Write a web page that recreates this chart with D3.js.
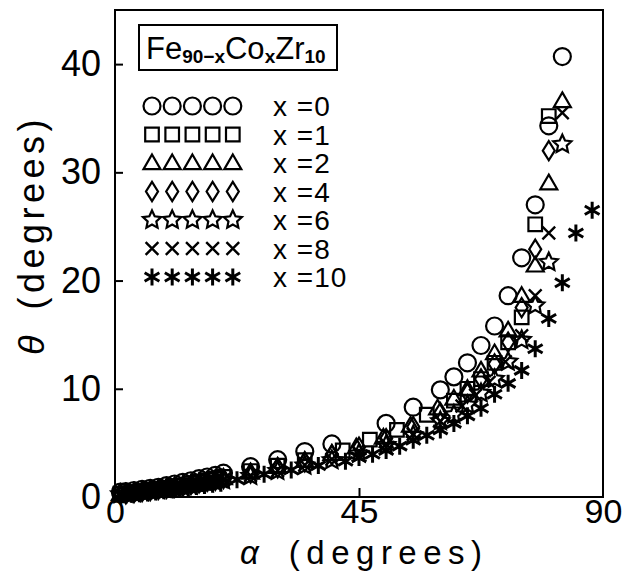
<!DOCTYPE html>
<html>
<head>
<meta charset="utf-8">
<script src="https://cdn.jsdelivr.net/npm/d3@7"></script>
<style>
  body { margin: 0; background: #fff; }
  text { font-family: "Liberation Sans", Arial, sans-serif; fill: #000; }
</style>
</head>
<body>
<script>
// series labels (x in Fe90-xCoxZr10)
var seriesNames = ["x =0", "x =1", "x =2", "x =4", "x =6", "x =8", "x =10"];

// alpha / theta values (degrees)
var alpha0 = [1, 2, 3.5, 5, 6.5, 8, 9.5, 11, 12.5, 14, 15.5, 17, 18.5, 20, 25, 30, 35, 40, 50, 55, 60, 62.5, 65, 67.5, 70, 72.5, 75, 77.5, 80, 82.5];
var theta0 = [0.45, 0.5, 0.6, 0.7, 0.8, 0.9, 1.05, 1.2, 1.35, 1.5, 1.7, 1.85, 2.0, 2.2, 2.8, 3.45, 4.2, 4.9, 6.8, 8.3, 9.9, 11.1, 12.4, 14.0, 15.8, 18.6, 22.1, 27.0, 34.3, 40.7];

var alpha1 = [1, 2, 3.5, 5, 6.5, 8, 9.5, 11, 12.5, 14, 15.5, 17, 18.5, 20, 25, 30, 35, 42, 47, 52, 57.5, 62.5, 65, 67.5, 70, 72.5, 75, 77.5, 80];
var theta1 = [0.3, 0.35, 0.45, 0.55, 0.65, 0.75, 0.85, 1.0, 1.1, 1.25, 1.4, 1.55, 1.7, 1.85, 2.4, 2.9, 3.4, 4.3, 5.3, 6.2, 7.6, 8.9, 10.0, 10.9, 12.4, 14.3, 16.6, 25.2, 35.2];

var alpha2 = [1, 2, 3.5, 5, 6.5, 8, 9.5, 11, 12.5, 14, 15.5, 17, 18.5, 20, 25, 30, 35, 40, 44.5, 49.5, 54.5, 59.5, 62.5, 65, 67.5, 70, 72.5, 75, 77.5, 80, 82.5];
var theta2 = [0.3, 0.35, 0.4, 0.5, 0.6, 0.7, 0.8, 0.95, 1.05, 1.2, 1.35, 1.5, 1.6, 1.75, 2.25, 2.8, 3.35, 4.0, 4.6, 5.5, 6.6, 8.2, 9.1, 10.0, 11.7, 13.3, 15.4, 18.6, 21.4, 29.0, 36.6];

var alpha4 = [1, 2, 3.5, 5, 6.5, 8, 9.5, 11, 12.5, 14, 15.5, 17, 18.5, 20, 25, 30, 35, 40, 45, 50, 55, 60, 65, 67.5, 70, 72.5, 75, 77.5, 80];
var theta4 = [0.25, 0.3, 0.4, 0.5, 0.6, 0.7, 0.8, 0.9, 1.0, 1.15, 1.3, 1.45, 1.55, 1.7, 2.2, 2.7, 3.25, 3.9, 4.6, 5.4, 6.5, 7.8, 9.6, 10.9, 12.3, 14.3, 17.5, 22.9, 32.0];

var alpha6 = [1, 2, 3.5, 5, 6.5, 8, 9.5, 11, 12.5, 14, 15.5, 17, 18.5, 20, 25, 30, 35, 40, 45, 50, 55, 60, 62.5, 65, 67.5, 70, 72.5, 75, 77.5, 80, 82.5];
var theta6 = [0.25, 0.3, 0.35, 0.45, 0.55, 0.62, 0.72, 0.82, 0.92, 1.05, 1.18, 1.3, 1.42, 1.55, 1.95, 2.4, 2.9, 3.4, 4.0, 4.8, 5.7, 7.0, 7.6, 8.5, 9.6, 10.9, 12.5, 14.5, 17.7, 21.7, 32.6];

var alpha8 = [1, 2, 3.5, 5, 6.5, 8, 9.5, 11, 12.5, 14, 15.5, 17, 18.5, 20, 25, 30, 35, 40, 45, 50, 55, 60, 64, 66.5, 69, 72, 75, 77.5, 80, 82.5];
var theta8 = [0.3, 0.35, 0.4, 0.5, 0.6, 0.68, 0.78, 0.88, 0.98, 1.1, 1.22, 1.35, 1.48, 1.6, 2.0, 2.45, 2.95, 3.5, 4.1, 4.9, 5.8, 7.0, 8.4, 9.4, 10.6, 12.5, 14.9, 18.6, 24.4, 35.5];

var alpha10 = [1.5, 3, 4.5, 6, 7.5, 9, 10.5, 12, 13.5, 15, 16.5, 18, 19.5, 22.5, 27.5, 32.5, 37.5, 42.5, 45, 47.5, 50, 52.5, 55, 57.5, 60, 62.5, 65, 67.5, 70, 72.5, 75, 77.5, 80, 82.5, 85, 88];
var theta10 = [0.2, 0.25, 0.3, 0.38, 0.47, 0.57, 0.67, 0.77, 0.86, 0.97, 1.07, 1.17, 1.28, 1.6, 2.1, 2.5, 2.9, 3.3, 3.65, 3.95, 4.3, 4.7, 5.25, 5.7, 6.2, 6.8, 7.5, 8.2, 9.5, 10.5, 11.7, 13.7, 16.5, 19.8, 24.4, 26.5];

var xTicks = [0, 45, 90];
var yTicks = [0, 10, 20, 30, 40];

var allAlpha = [alpha0, alpha1, alpha2, alpha4, alpha6, alpha8, alpha10];
var allTheta = [theta0, theta1, theta2, theta4, theta6, theta8, theta10];

// marker shapes (size = radius in px)
var shapeCircle = {draw: function(c, r){ c.moveTo(r, 0); c.arc(0, 0, r, 0, 2 * Math.PI); }};
var shapeSquare = {draw: function(c, r){ var s = r * 0.85; c.rect(-s, -s, 2 * s, 2 * s); }};
var shapeTriangle = {draw: function(c, r){ c.moveTo(0, -r); c.lineTo(r, r * 0.72); c.lineTo(-r, r * 0.72); c.closePath(); }};
var shapeDiamond = {draw: function(c, r){ c.moveTo(0, -r * 1.2); c.lineTo(r * 0.75, 0); c.lineTo(0, r * 1.2); c.lineTo(-r * 0.75, 0); c.closePath(); }};
var shapeStar = {draw: function(c, r){
  for (var i = 0; i < 10; i++) {
    var a = -Math.PI / 2 + i * Math.PI / 5, rr = i % 2 ? r * 0.48 : r;
    if (i === 0) c.moveTo(rr * Math.cos(a), rr * Math.sin(a)); else c.lineTo(rr * Math.cos(a), rr * Math.sin(a));
  }
  c.closePath();
}};
var shapeTimes = {draw: function(c, r){ var s = r * 0.75; c.moveTo(-s, -s); c.lineTo(s, s); c.moveTo(-s, s); c.lineTo(s, -s); }};
var shapeAsterisk = {draw: function(c, r){
  var t = r / 2, u = t * Math.sqrt(3);
  c.moveTo(0, -r); c.lineTo(0, r);
  c.moveTo(-u, -t); c.lineTo(u, t);
  c.moveTo(-u, t); c.lineTo(u, -t);
}};

var shapes = [shapeCircle, shapeSquare, shapeTriangle, shapeDiamond, shapeStar, shapeTimes, shapeAsterisk];
var shapeSize = [8.5, 8, 8.5, 8, 9.5, 8.5, 8.5];
var shapeStroke = [2.2, 2.2, 2.2, 2.2, 2.2, 2.4, 3];

var width = 624, height = 572;
var margin = {left: 115, right: 21, top: 10, bottom: 75};

var x = d3.scaleLinear().domain([0, 90]).range([margin.left, width - margin.right]);
var y = d3.scaleLinear().domain([0, 45]).range([height - margin.bottom, margin.top]);

var svg = d3.select("body").append("svg").attr("width", width).attr("height", height);

// axes
var yAxis = d3.axisLeft(y).tickValues(yTicks).tickSize(-8).tickPadding(14);
var xAxis = d3.axisBottom(x).tickValues(xTicks).tickSize(-9).tickPadding(2);

var gy = svg.append("g").attr("transform", "translate(" + margin.left + ",0)").call(yAxis);
var gx = svg.append("g").attr("transform", "translate(0," + (height - margin.bottom) + ")").call(xAxis);
[gx, gy].forEach(function(g){
  g.select(".domain").remove();
  g.selectAll(".tick line").attr("stroke", "#000").attr("stroke-width", 2);
  g.selectAll(".tick text").style("font-size", "36px").attr("fill", "#000");
});
gx.selectAll(".tick text").style("font-size", "34px");
gx.selectAll(".tick line").filter(function(d){ return d !== 45; }).remove();

// frame
svg.append("rect")
  .attr("x", x(0)).attr("y", y(45))
  .attr("width", x(90) - x(0)).attr("height", y(0) - y(45))
  .attr("fill", "none").attr("stroke", "#000").attr("stroke-width", 2);

// points
allAlpha.forEach(function(al, s){
  var pts = al.map(function(a, i){ return [a, allTheta[s][i]]; });
  svg.append("g").selectAll("path").data(pts).enter().append("path")
    .attr("d", d3.symbol().type(shapes[s]).size(shapeSize[s]))
    .attr("transform", function(d){ return "translate(" + x(d[0]) + "," + y(d[1]) + ")"; })
    .attr("fill", "none").attr("stroke", "#000").attr("stroke-width", shapeStroke[s])
    .attr("stroke-linejoin", "miter");
});

// title box
svg.append("rect").attr("x", 139).attr("y", 25).attr("width", 198).attr("height", 45)
  .attr("fill", "#fff").attr("stroke", "#000").attr("stroke-width", 2);
var title = svg.append("text").attr("x", 146).attr("y", 59).style("font-size", "31px");
title.append("tspan").text("Fe");
title.append("tspan").attr("dy", 4).style("font-size", "19px").style("font-weight", "bold").text("90\u2212x");
title.append("tspan").attr("dy", -4).text("Co");
title.append("tspan").attr("dy", 4).style("font-size", "19px").style("font-weight", "bold").text("x");
title.append("tspan").attr("dy", -4).text("Zr");
title.append("tspan").attr("dy", 4).style("font-size", "19px").style("font-weight", "bold").text("10");

// legend
var legend = svg.append("g");
seriesNames.forEach(function(name, s){
  var ry = 106 + s * 28.5;
  for (var k = 0; k < 5; k++) {
    legend.append("path")
      .attr("d", d3.symbol().type(shapes[s]).size(shapeSize[s]))
      .attr("transform", "translate(" + (152 + k * 20.2) + "," + ry + ")")
      .attr("fill", "none").attr("stroke", "#000").attr("stroke-width", shapeStroke[s]);
  }
  legend.append("text").attr("x", 273).attr("y", ry + 10)
    .style("font-size", "28px").style("letter-spacing", "1px").text(name);
});

// axis titles
var xl = svg.append("text").attr("x", 240).attr("y", 564).style("font-size", "33px");
xl.append("tspan").style("font-style", "italic").text("\u03b1");
xl.append("tspan").attr("dx", 30).style("letter-spacing", "6.5px").text("(degrees)");

var yl = svg.append("text").attr("transform", "translate(44,355) rotate(-90)").style("font-size", "36px");
yl.append("tspan").style("font-style", "italic").text("\u03b8");
yl.append("tspan").attr("dx", 26).style("letter-spacing", "4.5px").text("(degrees)");
</script>
</body>
</html>
